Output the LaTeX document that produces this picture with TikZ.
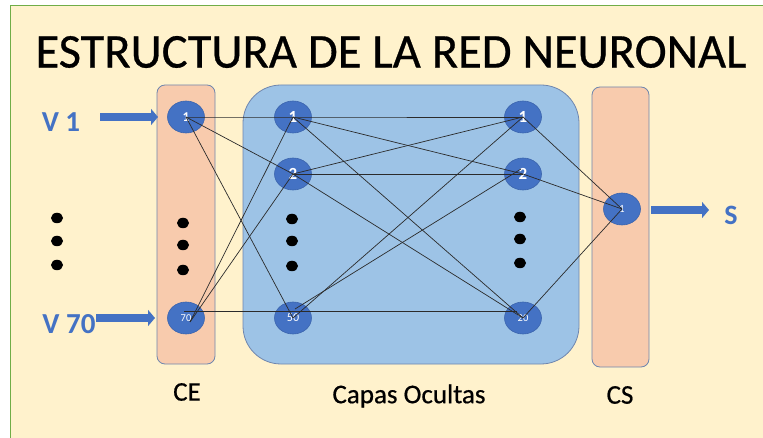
\documentclass[tikz,border=0pt]{standalone}
\usepackage{fontspec}
\setmainfont{Carlito}
\newfontfamily\heavyfont{Carlito}[FakeBold=0.6]
\usetikzlibrary{arrows.meta,shapes.geometric}
\definecolor{cream}{HTML}{FFF2CC}
\definecolor{frame}{HTML}{70AD47}
\definecolor{salmon}{HTML}{F8CBAD}
\definecolor{lightblue}{HTML}{9DC3E6}
\definecolor{nblue}{HTML}{4472C4}
\definecolor{nborder}{HTML}{3B64AD}
\definecolor{boxborder}{HTML}{6F86AE}
\definecolor{wire}{HTML}{2B2B2B}
\tikzset{
  neuron/.style={ellipse, fill=nblue, draw=nborder, line width=0.6pt, minimum width=37pt, minimum height=32pt, inner sep=0pt, text=white},
  big/.style={font=\bfseries\fontsize{17}{17}\selectfont},
  small/.style={font=\fontsize{10.5}{10.5}\selectfont},
  dotmark/.style={ellipse, fill=black, minimum width=12pt, minimum height=10.5pt, inner sep=0pt},
  layerbox/.style={fill=salmon, draw=boxborder, line width=0.8pt, rounded corners=8pt},
  hiddenbox/.style={fill=lightblue, draw=boxborder, line width=0.8pt, rounded corners=38pt},
  conn/.style={draw=wire, line width=0.7pt},
  blockarrow/.style={draw=nblue, line width=8pt, -{Triangle[length=7pt,width=16pt]}},
  inlabel/.style={text=nblue, font=\bfseries\fontsize{29}{29}\selectfont, anchor=center},
  caption/.style={font=\heavyfont\fontsize{27}{27}\selectfont, anchor=center},
}
\begin{document}
\begin{tikzpicture}[x=1pt, y=-1pt]
\useasboundingbox (0,0) rectangle (763,438);
% background
\fill[white] (0,0) rectangle (763,438);
\fill[cream] (10,6) rectangle (763,438);
\draw[frame, line width=1pt] (10,438) -- (10,6) -- (763,6);
% title
\node[font=\heavyfont\fontsize{48.5}{48.5}\selectfont] (title) at (391,52) {ESTRUCTURA DE LA RED NEURONAL};
% layer boxes
\draw[layerbox] (157,85) rectangle (215,364);
\draw[hiddenbox] (243,85) rectangle (579,364);
\draw[layerbox] (592,87) rectangle (649,367);
\node[caption] (ce) at (187,392) {CE};
\node[caption] (capas) at (409,396) {Capas Ocultas};
\node[caption] (cs) at (620,395) {CS};
% neurons
\node[neuron, font=\bfseries\fontsize{13.5}{13.5}\selectfont] (e1) at (186,117) {1};
\node[neuron, small] (e70) at (186,318) {70};
\node[neuron, big] (a1) at (293,117) {1};
\node[neuron, big] (a2) at (293,174) {2};
\node[neuron, font=\fontsize{12}{12}\selectfont] (a50) at (293,318) {50};
\node[neuron, big] (b1) at (523,117) {1};
\node[neuron, big] (b2) at (523,174) {2};
\node[neuron, small] (b20) at (523,318) {20};
\node[neuron, font=\fontsize{11}{11}\selectfont] (s1) at (622,209) {1};
% dots
\foreach \n/\x/\y in {l1/57/218, l2/57/241, l3/57/265,
                      c1/183/223, c2/183/245, c3/183/270,
                      h1/292/219, h2/292/241, h3/292/266,
                      k1/520/217, k2/520/239, k3/520/263}
  \node[dotmark] (d\n) at (\x,\y) {};
% connections
\draw[conn] (e1.center) -- (a1.center) -- (b1.center);
\draw[conn] (e1.center) -- (a2.center);
\draw[conn] (e1.center) -- (a50.center);
\draw[conn] ([xshift=4pt,yshift=-4pt]e70.center) -- (a1.center);
\draw[conn] ([xshift=4pt,yshift=-4pt]e70.center) -- (a2.center);
\draw[conn] ([xshift=-2pt,yshift=6.5pt]e70.center) -- ([xshift=-6pt,yshift=6.5pt]b20.center);
\draw[conn] (a1.center) -- (b2.center);
\draw[conn] (a1.center) -- (b20.center);
\draw[conn] (a2.center) -- (b1.center);
\draw[conn] (a2.center) -- (b2.center);
\draw[conn] (a2.center) -- (b20.center);
\draw[conn] (a50.center) -- (b1.center);
\draw[conn] ([xshift=2pt,yshift=9pt]a50.center) -- ([xshift=-2pt,yshift=5pt]b2.center);
\draw[conn] (b1.center) -- (s1.center);
\draw[conn] (b2.center) -- (s1.center);
\draw[conn] (b20.center) -- (s1.center);
% inputs and output
\node[inlabel] (v1) at (61,122) {V 1};
\node[inlabel] (v70) at (69,324) {V 70};
\node[inlabel, font=\bfseries\fontsize{28}{28}\selectfont] (sout) at (731,215) {S};
\coordinate (v1s) at (100,117);
\coordinate (v1e) at (158,117);
\coordinate (v70s) at (96,318);
\coordinate (v70e) at (155,318);
\coordinate (ss) at (651,210);
\coordinate (se) at (709,210);
\draw[blockarrow] (v1s) -- (v1e);
\draw[blockarrow] (v70s) -- (v70e);
\draw[blockarrow] (ss) -- (se);
\end{tikzpicture}
\end{document}
